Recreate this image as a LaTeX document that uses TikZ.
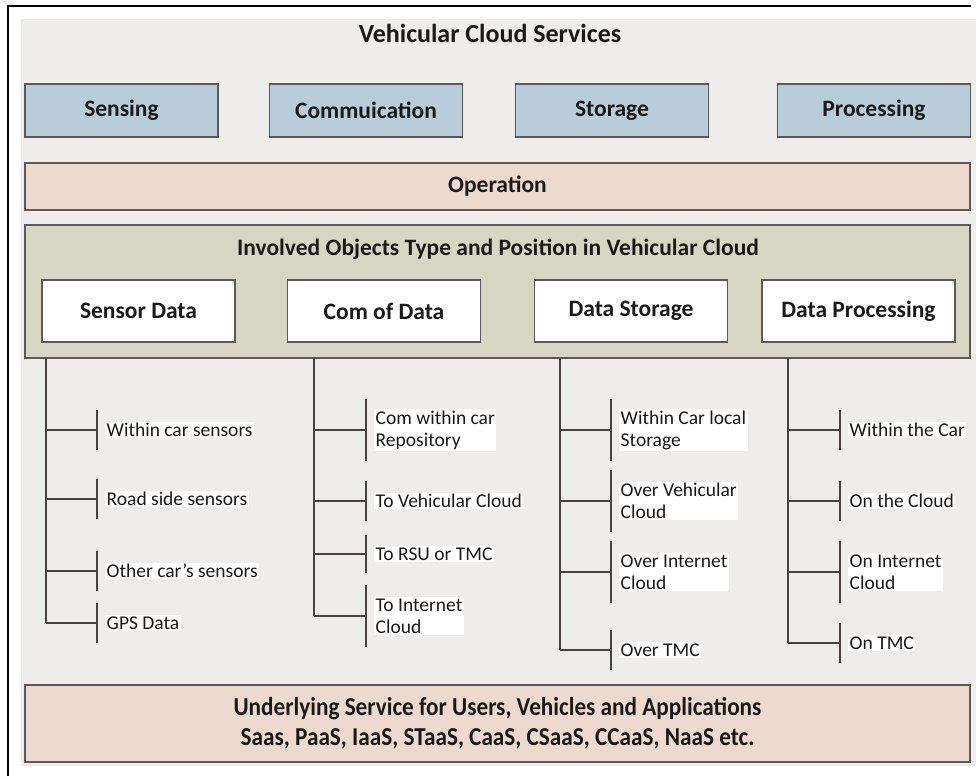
\documentclass[tikz,border=0pt]{standalone}
\usepackage{fontspec}
\setmainfont{Carlito}
\newfontfamily\condfont[FakeStretch=0.9]{Carlito}
\definecolor{bgray}{HTML}{EEEDEB}
\definecolor{bblue}{HTML}{B9CCDA}
\definecolor{bpink}{HTML}{EDD9CD}
\definecolor{bgreen}{HTML}{D7D6C3}
\definecolor{bline}{HTML}{5E5858}
\definecolor{tline}{HTML}{4A4242}
\tikzset{
  every node/.style={text=black!90},
  svcbox/.style={draw=bline, line width=1.5pt, fill=bblue, minimum width=193pt, minimum height=53pt, font=\fontsize{23.5}{26}\selectfont\bfseries},
  widebox/.style={draw=bline, line width=1.5pt, minimum width=945pt},
  objbox/.style={draw=bline, line width=1.2pt, fill=white, minimum width=193pt, minimum height=62pt, font=\fontsize{23.5}{26}\selectfont\bfseries},
  leaf/.style={fill=white, inner sep=1.5pt, anchor=west, align=left, font=\fontsize{19.5}{22}\selectfont},
  treeline/.style={draw=tline, line width=1.4pt},
}
\newcommand\mybranch[3]{%
  \draw[treeline] (#1 |- #2.west) -- ([xshift=-8pt]#2.west);
  \draw[treeline] ([xshift=-8pt,yshift=#3]#2.west) -- ([xshift=-8pt,yshift=-#3]#2.west);}
\begin{document}
\begin{tikzpicture}[x=1pt,y=-1pt]
\useasboundingbox (0,0) rectangle (976,776);
\fill[white] (0,0) rectangle (976,776);
\fill[bgray] (21,19) rectangle (976,766);
\draw[black, line width=2.5pt] (8,776) -- (8,6) -- (971,6);

\node[font=\fontsize{26}{28}\selectfont\bfseries] (title) at (490,33) {Vehicular Cloud Services};

\node[svcbox] (sens) at (121.5,110.5) {Sensing};
\node[svcbox] (comm) at (366,110.5) {Commuication};
\node[svcbox] (stor) at (612,110.5) {Storage};
\node[svcbox] (proc) at (874,110.5) {Processing};

\node[widebox, fill=bpink, minimum height=47pt, font=\fontsize{23.5}{26}\selectfont\bfseries] (oper) at (497.5,186.5) {Operation};

\node[widebox, fill=bgreen, minimum height=133pt] (green) at (497.5,291.5) {};
\node[font=\fontsize{23.5}{26}\selectfont\bfseries] (gtitle) at (498,249) {Involved Objects Type and Position in Vehicular Cloud};

\node[objbox] (sd) at (138.5,311) {Sensor Data};
\node[objbox] (cd) at (384,311) {Com of Data};
\node[objbox] (ds) at (631,311) {Data Storage};
\node[objbox] (dp) at (858.5,311) {Data Processing};

\coordinate (t1) at (46,358);
\coordinate (t2) at (314,358);
\coordinate (t3) at (560,358);
\coordinate (t4) at (788,358);

% column 1
\node[leaf] (a1) at (105,430) {Within car sensors};
\node[leaf] (a2) at (105,499) {Road side sensors};
\node[leaf] (a3) at (105,571) {Other car’s sensors};
\node[leaf] (a4) at (105,623) {GPS Data};
% column 2
\node[leaf] (b1) at (374,430) {Com within car\\Repository};
\node[leaf] (b2) at (374,501) {To Vehicular Cloud};
\node[leaf] (b3) at (374,554) {To RSU or TMC};
\node[leaf] (b4) at (374,616) {To Internet\\Cloud};
% column 3
\node[leaf] (c1) at (619,430) {Within Car local\\Storage};
\node[leaf] (c2) at (619,501) {Over Vehicular\\Cloud};
\node[leaf] (c3) at (619,572) {Over Internet\\Cloud};
\node[leaf] (c4) at (619,650) {Over TMC};
% column 4
\node[leaf] (d1) at (848,430) {Within the Car};
\node[leaf] (d2) at (848,501) {On the Cloud};
\node[leaf] (d3) at (848,572) {On Internet\\Cloud};
\node[leaf] (d4) at (848,643) {On TMC};

\draw[treeline] (t1) -- (t1 |- a4.west);
\draw[treeline] (t2) -- (t2 |- b4.west);
\draw[treeline] (t3) -- (t3 |- c4.west);
\draw[treeline] (t4) -- (t4 |- d4.west);

\mybranch{t1}{a1}{20pt}
\mybranch{t1}{a2}{20pt}
\mybranch{t1}{a3}{20pt}
\mybranch{t1}{a4}{20pt}
\mybranch{t2}{b1}{31pt}
\mybranch{t2}{b2}{20pt}
\mybranch{t2}{b3}{19pt}
\mybranch{t2}{b4}{31pt}
\mybranch{t3}{c1}{31pt}
\mybranch{t3}{c2}{31pt}
\mybranch{t3}{c3}{31pt}
\mybranch{t3}{c4}{20pt}
\mybranch{t4}{d1}{20pt}
\mybranch{t4}{d2}{20pt}
\mybranch{t4}{d3}{31pt}
\mybranch{t4}{d4}{20pt}

\node[widebox, fill=bpink, minimum height=77pt, align=center, font=\condfont\fontsize{25.8}{30}\selectfont\bfseries] (under) at (497.5,723.5) {Underlying Service for Users, Vehicles and Applications\\Saas, PaaS, IaaS, STaaS, CaaS, CSaaS, CCaaS, NaaS etc.};
\end{tikzpicture}
\end{document}
